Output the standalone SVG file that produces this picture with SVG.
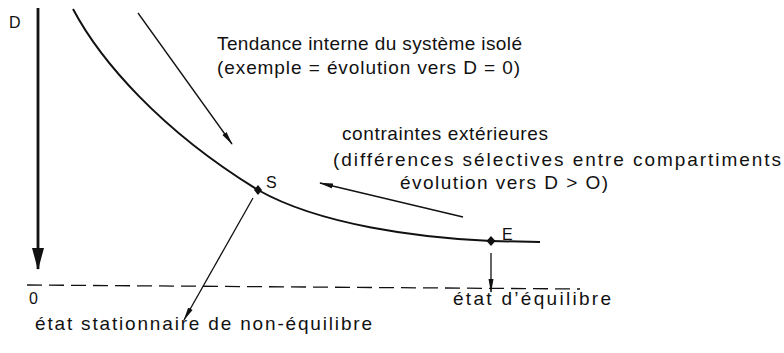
<svg xmlns="http://www.w3.org/2000/svg" width="784" height="353" viewBox="0 0 784 353">
<style>
text{font-family:"Liberation Sans",Arial,sans-serif;fill:#111;}
.lbl{font-size:19px;}
.pt{font-size:16px;}
.thin{fill:none;stroke:#111;stroke-width:1.3;}
</style>
<defs>
<marker id="ah" viewBox="0 0 14 6" refX="13" refY="3" markerWidth="14" markerHeight="6" markerUnits="userSpaceOnUse" orient="auto">
<path d="M0,0.5 L14,3 L0,5.5 Z" fill="#111"/>
</marker>
<marker id="big" viewBox="0 0 22 12" refX="21" refY="6" markerWidth="22" markerHeight="12" markerUnits="userSpaceOnUse" orient="auto">
<path d="M0,0 L22,6 L0,12 Z" fill="#111"/>
</marker>
</defs>
<g id="axis">
<line x1="38" y1="8" x2="38" y2="269" stroke="#111" stroke-width="2.8" marker-end="url(#big)"/>
<text x="9" y="28" class="pt">D</text>
<line x1="27" y1="285" x2="580" y2="289" stroke="#111" stroke-width="1.3" stroke-dasharray="15 7"/>
<text x="29" y="304" class="pt">0</text>
</g>
<g id="curve">
<path d="M73,9 C100,60 160,130 258,190 C320,225 420,238 491,241 L540,242" fill="none" stroke="#111" stroke-width="2"/>
</g>
<g id="S">
<path d="M258,185 L262,190 L258,195 L254,190 Z" fill="#111"/>
<text x="266" y="188" class="pt">S</text>
</g>
<g id="E">
<path d="M491,236 L495.5,241 L491,246 L486.5,241 Z" fill="#111"/>
<text x="502" y="240" class="pt">E</text>
</g>
<g id="label-tendance">
<text x="217" y="50" class="lbl" textLength="305">Tendance interne du système isolé</text>
<text x="217" y="74" class="lbl" textLength="303">(exemple = évolution vers D = 0)</text>
</g>
<g id="label-contraintes">
<text x="342" y="140" class="lbl" textLength="206">contraintes extérieures</text>
<text x="333" y="166" class="lbl" textLength="448">(différences sélectives entre compartiments</text>
<text x="400" y="189" class="lbl" textLength="208">évolution vers D &gt; O)</text>
</g>
<g id="label-stationnaire">
<text x="35" y="330" class="lbl" textLength="337">état stationnaire de non-équilibre</text>
</g>
<g id="label-equilibre">
<text x="453" y="305" class="lbl" textLength="158">état d’équilibre</text>
</g>
<g id="connectors">
<line x1="138" y1="13" x2="232" y2="144" class="thin" marker-end="url(#ah)"/>
<line x1="463" y1="217" x2="320" y2="183" class="thin" marker-end="url(#ah)"/>
<line x1="253" y1="198" x2="184" y2="320" class="thin" marker-end="url(#ah)"/>
<line x1="491" y1="253" x2="491" y2="292" class="thin" marker-end="url(#ah)"/>
</g>
</svg>
